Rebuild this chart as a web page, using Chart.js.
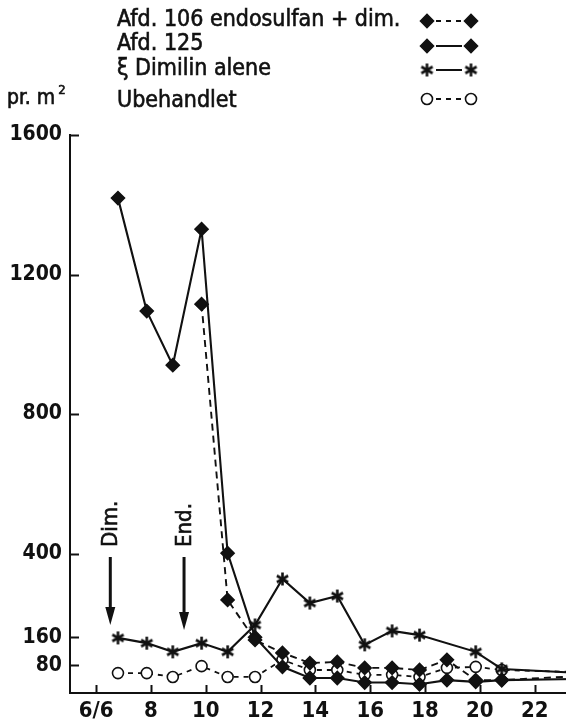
<!DOCTYPE html>
<html>
<head>
<meta charset="utf-8">
<style>
  html, body { margin: 0; padding: 0; background: #fff; overflow: hidden; }
  #wrap { width: 566px; height: 724px; position: relative; overflow: hidden; }
  #c { position: absolute; left: 0; top: 0; }
</style>
<script src="https://cdn.jsdelivr.net/npm/chart.js@4/dist/chart.umd.min.js"></script>
</head>
<body>
<div id="wrap"><canvas id="c" width="600" height="724"></canvas></div>
<script>
// Sampling dates (day of June) and counts per m²
const days       = [6.8, 7.85, 8.8, 9.85, 10.8, 11.8, 12.8, 13.8, 14.8, 15.8, 16.8, 17.8, 18.8, 19.85, 20.8, 23.5];
const afd106     = [null, null, null, 1115, 267, 152, 115, 86, 89, 72, 72, 66, 95, 37, 37, 48];
const afd125     = [1419, 1095, 940, 1330, 401, 160, 75, 43, 43, 30, 30, 25, 37, 32, 37, 40];
const dimilin    = [158, 143, 118, 143, 118, 195, 327, 258, 278, 138, 178, 166, null, 118, 69, 58];
const ubehandlet = [57, 57, 46, 77, 46, 46, 95, 66, 66, 52, 52, 46, 72, 75, 66, 60];

const seriesNames = ['Afd. 106 endosulfan + dim.', 'Afd. 125', '\u03BE Dimilin alene', 'Ubehandlet'];
const yTickValues = [80, 160, 400, 800, 1200, 1600];
const xTickValues = [6, 8, 10, 12, 14, 16, 18, 20, 22];
const xTickLabels = ['6/6', '8', '10', '12', '14', '16', '18', '20', '22'];

// Spraying dates: Dimilin and endosulfan
const treatments = [
  { label: 'Dim.', day: 6.52, from: 390, to: 195 },
  { label: 'End.', day: 9.21, from: 390, to: 181 }
];

const INK = '#111';
const FONT = '"DejaVu Sans Condensed", "DejaVu Sans", sans-serif';

// six-armed asterisk marker
function makeAsterisk(size, lw) {
  const cv = document.createElement('canvas');
  cv.width = size; cv.height = size;
  const g = cv.getContext('2d');
  const c = size / 2, r = size / 2 - 1;
  g.strokeStyle = INK; g.lineWidth = lw; g.lineCap = 'butt';
  for (let k = 0; k < 3; k++) {
    const ang = Math.PI / 2 + k * Math.PI / 3;
    g.beginPath();
    g.moveTo(c + r * Math.cos(ang), c - r * Math.sin(ang));
    g.lineTo(c - r * Math.cos(ang), c + r * Math.sin(ang));
    g.stroke();
  }
  return cv;
}
const asterisk = makeAsterisk(15, 2.6);

const toPoints = arr => days.map((d, i) => ({ x: d, y: arr[i] }));

const styles = [
  { pointStyle: 'rectRot', radius: 6.5, fill: INK, dash: [7, 5], width: 1.9 },
  { pointStyle: 'rectRot', radius: 6.5, fill: INK, dash: [], width: 2.1 },
  { pointStyle: asterisk, radius: 7, fill: INK, dash: [], width: 2.1 },
  { pointStyle: 'circle', radius: 5.5, fill: '#fff', dash: [5, 5], width: 1.8 }
];
const values = [afd106, afd125, dimilin, ubehandlet];

const datasets = values.map((arr, i) => ({
  label: seriesNames[i],
  data: toPoints(arr),
  borderColor: INK,
  backgroundColor: styles[i].fill,
  borderWidth: styles[i].width,
  borderDash: styles[i].dash,
  pointStyle: styles[i].pointStyle,
  pointRadius: styles[i].radius,
  pointBorderWidth: 1.6,
  pointBorderColor: INK,
  pointBackgroundColor: styles[i].fill,
  spanGaps: true,
  tension: 0,
  fill: false
}));

// text with a slightly heavier stroke
function inkText(ctx, str, px, py) {
  ctx.fillText(str, px, py);
  ctx.lineWidth = 0.6;
  ctx.strokeText(str, px, py);
}

const decorations = {
  id: 'decorations',
  afterDraw(chart) {
    const { ctx, chartArea: a, scales: { x, y } } = chart;
    ctx.save();
    ctx.strokeStyle = INK;
    ctx.fillStyle = INK;

    // inward tick marks
    ctx.lineWidth = 2;
    ctx.setLineDash([]);
    yTickValues.forEach(v => {
      const py = Math.round(y.getPixelForValue(v)) + 0.5;
      ctx.beginPath(); ctx.moveTo(a.left, py); ctx.lineTo(a.left + 9, py); ctx.stroke();
    });
    xTickValues.forEach(v => {
      const px = Math.round(x.getPixelForValue(v)) + 0.5;
      ctx.beginPath(); ctx.moveTo(px, a.bottom); ctx.lineTo(px, a.bottom - 8); ctx.stroke();
    });

    // treatment arrows
    treatments.forEach(t => {
      const px = x.getPixelForValue(t.day);
      const top = y.getPixelForValue(t.from);
      const tip = y.getPixelForValue(t.to);
      ctx.lineWidth = 3;
      ctx.beginPath(); ctx.moveTo(px, top); ctx.lineTo(px, tip - 12); ctx.stroke();
      ctx.beginPath();
      ctx.moveTo(px - 5, tip - 18); ctx.lineTo(px + 5, tip - 18); ctx.lineTo(px, tip);
      ctx.closePath(); ctx.fill();
      ctx.save();
      ctx.translate(px + 1, top - 10);
      ctx.rotate(-Math.PI / 2);
      ctx.font = '22px ' + FONT;
      ctx.textAlign = 'left';
      ctx.textBaseline = 'middle';
      inkText(ctx, t.label, 0, 0);
      ctx.restore();
    });

    // legend
    const rows = [21, 46, 70, 99];
    const baselines = [26, 50, 75, 107];
    const x1 = 427, x2 = 471;
    ctx.textAlign = 'left';
    ctx.textBaseline = 'alphabetic';
    seriesNames.forEach((name, i) => {
      ctx.font = '23px ' + FONT;
      ctx.fillStyle = INK;
      inkText(ctx, name, 117, baselines[i]);
      const s = styles[i];
      const ry = rows[i];
      ctx.lineWidth = 2;
      ctx.setLineDash(s.dash.length ? [5, 5] : []);
      ctx.beginPath(); ctx.moveTo(x1 + 9, ry); ctx.lineTo(x2 - 9, ry); ctx.stroke();
      ctx.setLineDash([]);
      ctx.fillStyle = s.fill;
      ctx.lineWidth = 1.6;
      [x1, x2].forEach(px => {
        Chart.helpers.drawPoint(ctx, { pointStyle: s.pointStyle, radius: s.radius, rotation: 0, borderWidth: 1.6 }, px, ry);
      });
    });

    // unit label
    ctx.fillStyle = INK;
    ctx.font = '21px ' + FONT;
    inkText(ctx, 'pr. m', 7, 104);
    const w = ctx.measureText('pr. m').width;
    ctx.font = '13px ' + FONT;
    inkText(ctx, '2', 7 + w + 3, 94);

    ctx.restore();
  }
};

new Chart(document.getElementById('c'), {
  type: 'line',
  data: { datasets },
  options: {
    responsive: false,
    animation: false,
    layout: { padding: { top: 135, right: 0, left: 0, bottom: 0 } },
    plugins: { legend: { display: false }, tooltip: { enabled: false } },
    scales: {
      x: {
        type: 'linear',
        min: 5.05,
        max: 24.07,
        afterBuildTicks: s => { s.ticks = xTickValues.map(v => ({ value: v })); },
        afterFit: s => { s.height = 31; s.paddingLeft = 0; s.paddingRight = 0; },
        ticks: {
          autoSkip: false,
          maxRotation: 0,
          padding: 5,
          color: INK,
          font: { family: FONT, size: 22, weight: 'bold' },
          callback: v => xTickLabels[xTickValues.indexOf(v)]
        },
        grid: { display: false, drawTicks: false },
        border: { display: true, color: INK, width: 2 }
      },
      y: {
        type: 'linear',
        min: 0,
        max: 1600,
        afterBuildTicks: s => { s.ticks = yTickValues.map(v => ({ value: v })); },
        afterFit: s => { s.width = 70; s.paddingTop = 0; s.paddingBottom = 0; },
        ticks: {
          padding: 8,
          color: INK,
          font: { family: FONT, size: 21, weight: 'bold' },
          callback: v => String(v)
        },
        grid: { display: false, drawTicks: false },
        border: { display: true, color: INK, width: 2 }
      }
    }
  },
  plugins: [decorations]
});
</script>
</body>
</html>
